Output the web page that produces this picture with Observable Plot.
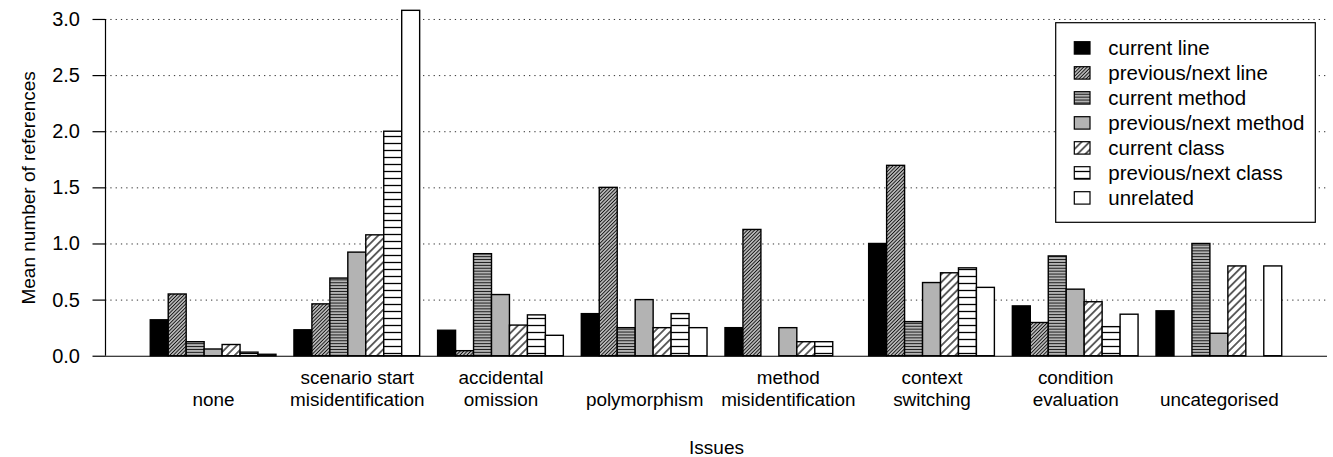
<!DOCTYPE html>
<html>
<head>
<meta charset="utf-8">
<script src="https://cdn.jsdelivr.net/npm/d3@7"></script>
<script src="https://cdn.jsdelivr.net/npm/@observablehq/plot@0.6"></script>
<style>
html, body { margin: 0; padding: 0; background: #fff; }
#chart { width: 1333px; height: 457px; }
</style>
</head>
<body>
<div id="chart"></div>
<script>
// ---- data ----
const issues = ["none", "scenario start misidentification", "accidental omission", "polymorphism",
  "method misidentification", "context switching", "condition evaluation", "uncategorised"];
const issueLabels = ["none", "scenario start\nmisidentification", "accidental\nomission", "polymorphism",
  "method\nmisidentification", "context\nswitching", "condition\nevaluation", "uncategorised"];
const seriesNames = ["current line", "previous/next line", "current method", "previous/next method",
  "current class", "previous/next class", "unrelated"];

const currentLine    = [0.32, 0.231, 0.227, 0.375, 0.25, 1.0, 0.444, 0.4];
const prevNextLine   = [0.55, 0.462, 0.045, 1.5, 1.125, 1.696, 0.296, 0];
const currentMethod  = [0.125, 0.692, 0.909, 0.25, 0, 0.304, 0.889, 1.0];
const prevNextMethod = [0.06, 0.923, 0.545, 0.5, 0.25, 0.652, 0.593, 0.2];
const currentClass   = [0.10, 1.077, 0.273, 0.25, 0.125, 0.739, 0.481, 0.8];
const prevNextClass  = [0.032, 2.0, 0.364, 0.375, 0.125, 0.783, 0.259, 0];
const unrelated      = [0.013, 3.077, 0.182, 0.25, 0, 0.609, 0.370, 0.8];

const yTicks = [0, 0.5, 1.0, 1.5, 2.0, 2.5, 3.0];

// ---- styles ----
const fills = ["black", "url(#pat-line-dense)", "url(#pat-horiz-dense)", "#b3b3b3",
  "url(#pat-diag-sparse)", "url(#pat-horiz-sparse)", "white"];
const font = "'Liberation Sans', Arial, Helvetica, sans-serif";

// ---- build table ----
const seriesValues = [currentLine, prevNextLine, currentMethod, prevNextMethod, currentClass, prevNextClass, unrelated];
const perGroup = seriesNames.length + 1; // bars + one gap (barplot space = 1)
const data = [];
issues.forEach((issue, i) => {
  seriesNames.forEach((s, j) => {
    data.push({issue, series: s, value: seriesValues[j][i], slot: i * perGroup + 1 + j});
  });
});
const nSlots = issues.length * perGroup;
const ext = 0.04 * (nSlots - 1);
const xDomain = [1 - ext, nSlots + ext];
const groupCenter = (i) => i * perGroup + 1 + seriesNames.length / 2;

const plot = Plot.plot({
  width: 1333,
  height: 457,
  marginLeft: 105,
  marginRight: 6,
  marginTop: 5.5,
  marginBottom: 87.8,
  style: {fontFamily: font, color: "black", background: "white"},
  x: {type: "linear", domain: xDomain, axis: null},
  y: {domain: [-0.12, 3.12], axis: null},
  color: {domain: seriesNames, range: fills},
  marks: [
    Plot.ruleY(yTicks.filter(d => d > 0), {stroke: "#333", strokeWidth: 1, strokeDasharray: "1.3,4"}),
    Plot.rect(data, {x1: "slot", x2: d => d.slot + 1, y1: 0, y2: "value", fill: "series", stroke: "black", strokeWidth: 1.4}),
    Plot.ruleY([0], {stroke: "black", strokeWidth: 1.2}),
    Plot.ruleX([xDomain[0]], {y1: 0, y2: 3, stroke: "black", strokeWidth: 1.2}),
    Plot.axisY({ticks: yTicks, tickFormat: d => d.toFixed(1), tickSize: 12.5, tickPadding: 13, fontSize: 20, label: null, strokeWidth: 1.2}),
    Plot.text(issueLabels, {x: (d, i) => groupCenter(i), frameAnchor: "bottom", lineAnchor: "bottom", dy: 36.3, fontSize: 18.9, lineHeight: 1.17}),
    Plot.text(["Issues"], {frameAnchor: "bottom", lineAnchor: "bottom", dy: 84.3, fontSize: 19}),
    Plot.text(["Mean number of references"], {frameAnchor: "left", textAnchor: "middle", rotate: -90, lineAnchor: "bottom", dx: -70.5, fontSize: 19})
  ]
});

const svg = d3.select(plot);
const defs = svg.insert("defs", ":first-child");
function hatch(id, angle, spacing, sw, color) {
  const p = defs.append("pattern")
    .attr("id", id)
    .attr("patternUnits", "userSpaceOnUse")
    .attr("width", spacing)
    .attr("height", spacing)
    .attr("patternTransform", `rotate(${angle})`);
  p.append("rect").attr("width", spacing).attr("height", spacing).attr("fill", "white");
  p.append("rect").attr("x", 0).attr("y", (spacing - sw) / 2).attr("width", spacing).attr("height", sw).attr("fill", color);
}
hatch("pat-line-dense", -45, 2.5, 1.35, "#111");
hatch("pat-horiz-dense", 0, 2.9, 1.6, "#1a1a1a");
hatch("pat-diag-sparse", -45, 5.6, 1.2, "black");
hatch("pat-horiz-sparse", 0, 7, 1.3, "black");

// legend
const lg = svg.append("g").attr("class", "legend").attr("text-anchor", "start");
lg.append("rect").attr("x", 1055.7).attr("y", 22.7).attr("width", 259.6).attr("height", 199.6)
  .attr("fill", "white").attr("stroke", "black").attr("stroke-width", 1.2);
seriesNames.forEach((s, k) => {
  const base = 55.3 + k * 25.0;
  lg.append("rect").attr("x", 1074.3).attr("y", base - 13.6).attr("width", 15.7).attr("height", 12.4)
    .attr("fill", fills[k]).attr("stroke", "black").attr("stroke-width", 1.2);
  lg.append("text").attr("x", 1108.3).attr("y", base).attr("text-anchor", "start")
    .attr("font-size", 20.5).attr("fill", "black").text(s);
});

document.getElementById("chart").appendChild(plot);
</script>
</body>
</html>
